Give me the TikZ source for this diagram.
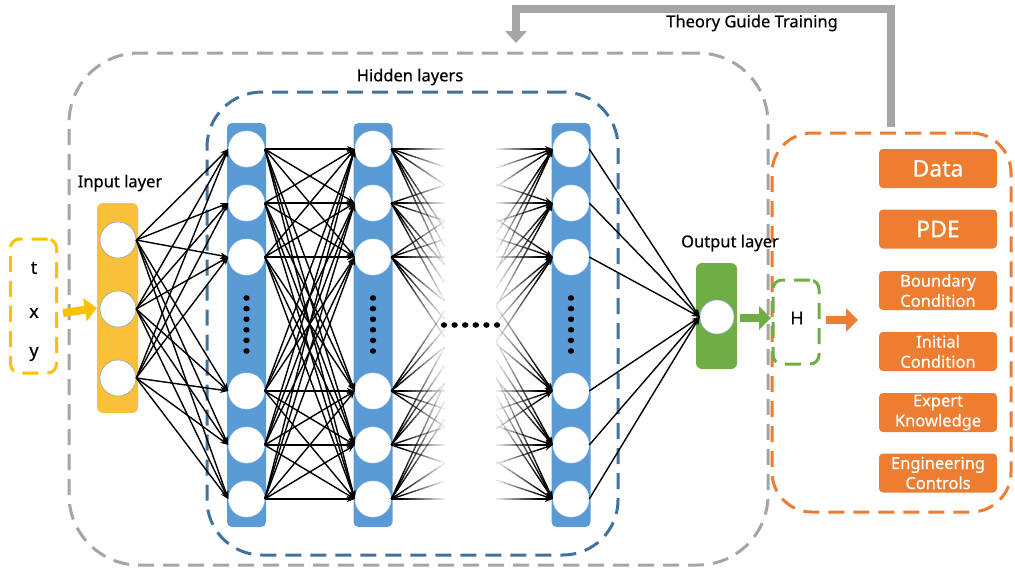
\documentclass[tikz,border=0pt]{standalone}
\usepackage{fontspec}
\setmainfont{Noto Sans}[FakeBold=0.5]
\usetikzlibrary{arrows.meta,calc}
\definecolor{cOrange}{HTML}{ED7D31}
\definecolor{cBlue}{HTML}{5B9BD5}
\definecolor{cBlueDash}{HTML}{41719C}
\definecolor{cGreen}{HTML}{70AD47}
\definecolor{cYellow}{HTML}{FAC03A}
\definecolor{cYellowDash}{HTML}{FFC000}
\definecolor{cGrey}{HTML}{A5A5A5}
\tikzset{
  dashbox/.style={rectangle,line width=3pt,dash pattern=on 16pt off 9pt,inner sep=0pt},
  colbox/.style={rectangle,rounded corners=5pt,inner sep=0pt,minimum width=39pt,minimum height=404pt,fill=cBlue},
  neuron/.style={circle,fill=white,draw=black!30,line width=0.5pt,minimum size=36pt,inner sep=0pt},
  conn/.style={line width=1.4pt,-{Stealth[length=8pt,width=6pt]}},
  fat/.style={line width=8pt,-{Triangle[width=23pt,length=12pt]}},
  lbl/.style={font=\fontsize{16.5}{19}\selectfont,inner sep=0pt},
  vlbl/.style={font=\fontsize{18}{20}\selectfont,inner sep=0pt},
  cbox/.style={rectangle,rounded corners=4pt,fill=cOrange,minimum width=118pt,minimum height=39pt,inner sep=0pt,text=white,align=center,font=\fontsize{16.5}{20}\selectfont},
  bigc/.style={font=\fontsize{23}{25}\selectfont},
}
\begin{document}
\begin{tikzpicture}[x=1pt,y=-1pt]
\useasboundingbox (0,0) rectangle (1015,571);
% dashed containers
\node[dashbox,draw=cGrey,rounded corners=70pt,minimum width=699pt,minimum height=512pt] (outer) at (418.5,309) {};
\node[dashbox,draw=cBlueDash,rounded corners=55pt,minimum width=411pt,minimum height=463pt] (hidbox) at (412.5,323.5) {};
\node[dashbox,draw=cOrange,rounded corners=40pt,minimum width=239pt,minimum height=379pt] (obox) at (891.5,322.5) {};
\node[dashbox,draw=cYellowDash,rounded corners=9pt,minimum width=46pt,minimum height=134pt] (ibox) at (33.5,306) {};
\node[dashbox,draw=cGreen,rounded corners=9pt,minimum width=46pt,minimum height=84pt] (hbox) at (796,322) {};
% labels
\node[lbl] (tlab) at (752,23) {Theory Guide Training};
\node[lbl] (hlab) at (410,77) {Hidden layers};
\node[lbl] (ilab) at (120,183) {Input layer};
\node[lbl] (olab) at (730,243) {Output layer};
\node[vlbl] (vt) at (34,268) {t};
\node[vlbl] (vx) at (34,313) {x};
\node[vlbl] (vy) at (34,354) {y};
\node[vlbl] (vh) at (797,318) {H};
% theory arrow
\coordinate (tg1) at (891,127);
\coordinate (tg2) at (891,9);
\coordinate (tg3) at (516,9);
\coordinate (tg4) at (516,43);
\draw[line width=8pt,cGrey,line join=miter,-{Triangle[width=21pt,length=12pt]}] (tg1) -- (tg2) -- (tg3) -- (tg4);
% input layer
\node[rectangle,rounded corners=6pt,fill=cYellow,minimum width=41pt,minimum height=210pt,inner sep=0pt] (inrect) at (117.5,308) {};
\node[neuron,draw=black!40!cBlue!60] (in1) at (118,240) {};
\node[neuron,draw=black!40!cBlue!60] (in2) at (118,309) {};
\node[neuron,draw=black!40!cBlue!60] (in3) at (118,378) {};
% hidden columns
\node[colbox] (col1) at (246.5,325) {};
\node[colbox] (col2) at (373,325) {};
\node[colbox] (col3) at (571,325) {};
\foreach \n/\y in {1/149,2/203,3/257,4/391,5/445,6/499}{
  \node[neuron,draw=white!80!cBlue] (a\n) at (246.5,\y) {};
  \node[neuron,draw=white!80!cBlue] (b\n) at (373,\y) {};
  \node[neuron,draw=white!80!cBlue] (c\n) at (571,\y) {};
}
\foreach \k in {0,...,5}{
  \fill ($(col1.center)+(0,-27+\k*10.6)$) ellipse (3.2pt and 2.8pt);
  \fill ($(col2.center)+(0,-27+\k*10.6)$) ellipse (3.2pt and 2.8pt);
  \fill ($(col3.center)+(0,-27+\k*10.6)$) ellipse (3.2pt and 2.8pt);
  \fill (444+\k*10.6,325) ellipse (3.2pt and 2.8pt);
}
% output
\node[rectangle,rounded corners=6pt,fill=cGreen,minimum width=41pt,minimum height=106pt,inner sep=0pt] (outrect) at (716.5,316) {};
\node[neuron,draw=cBlue!70,minimum size=34pt] (out) at (717,317) {};
% connections
\foreach \i in {1,2,3}{\foreach \j in {1,...,6}{\draw[conn] (in\i.east) -- (a\j.west);}}
\foreach \i in {1,...,6}{\foreach \j in {1,...,6}{\draw[conn] (a\i.east) -- (b\j.west);}}
\foreach \i in {1,...,6}{\draw[conn] (c\i.east) -- (out.west);}
\foreach \i in {1,...,6}{\foreach \j in {1,...,6}{
  \draw[line width=1.4pt] (b\i.east) -- ($(b\i.east)!0.08!(c\j.west)$);
  \foreach \k [evaluate=\k as \ta using 0.08+\k*0.025, evaluate=\k as \tb using 0.08+(\k+1)*0.025, evaluate=\k as \op using 0.9-\k*0.09] in {0,...,9}{
    \draw[line width=1.4pt,draw opacity=\op] ($(b\i.east)!\ta!(c\j.west)$) -- ($(b\i.east)!\tb!(c\j.west)$);
  }
  \foreach \k [evaluate=\k as \ta using 0.65+\k*0.025, evaluate=\k as \tb using 0.65+(\k+1)*0.025, evaluate=\k as \op using 0.09+\k*0.09] in {0,...,9}{
    \draw[line width=1.4pt,draw opacity=\op] ($(b\i.east)!\ta!(c\j.west)$) -- ($(b\i.east)!\tb!(c\j.west)$);
  }
  \draw[conn] ($(b\i.east)!0.9!(c\j.west)$) -- (c\j.west);
}}
% fat arrows
\coordinate (ya) at (63,313);
\draw[fat,cYellowDash] (ya) -- (inrect.west);
\coordinate (ga1) at (740,318);
\coordinate (ga2) at (771,318);
\draw[fat,cGreen] (ga1) -- (ga2);
\coordinate (oa1) at (826,320);
\coordinate (oa2) at (858,320);
\draw[fat,cOrange] (oa1) -- (oa2);
% orange boxes
\node[cbox,bigc] (data) at (938,168.5) {Data};
\node[cbox,bigc] (pde) at (938,229) {PDE};
\node[cbox] (bc) at (938,290.5) {Boundary\\Condition};
\node[cbox] (ic) at (938,351.5) {Initial\\Condition};
\node[cbox] (ek) at (938,412.5) {Expert\\Knowledge};
\node[cbox] (ec) at (938,473) {Engineering\\Controls};
\end{tikzpicture}
\end{document}
